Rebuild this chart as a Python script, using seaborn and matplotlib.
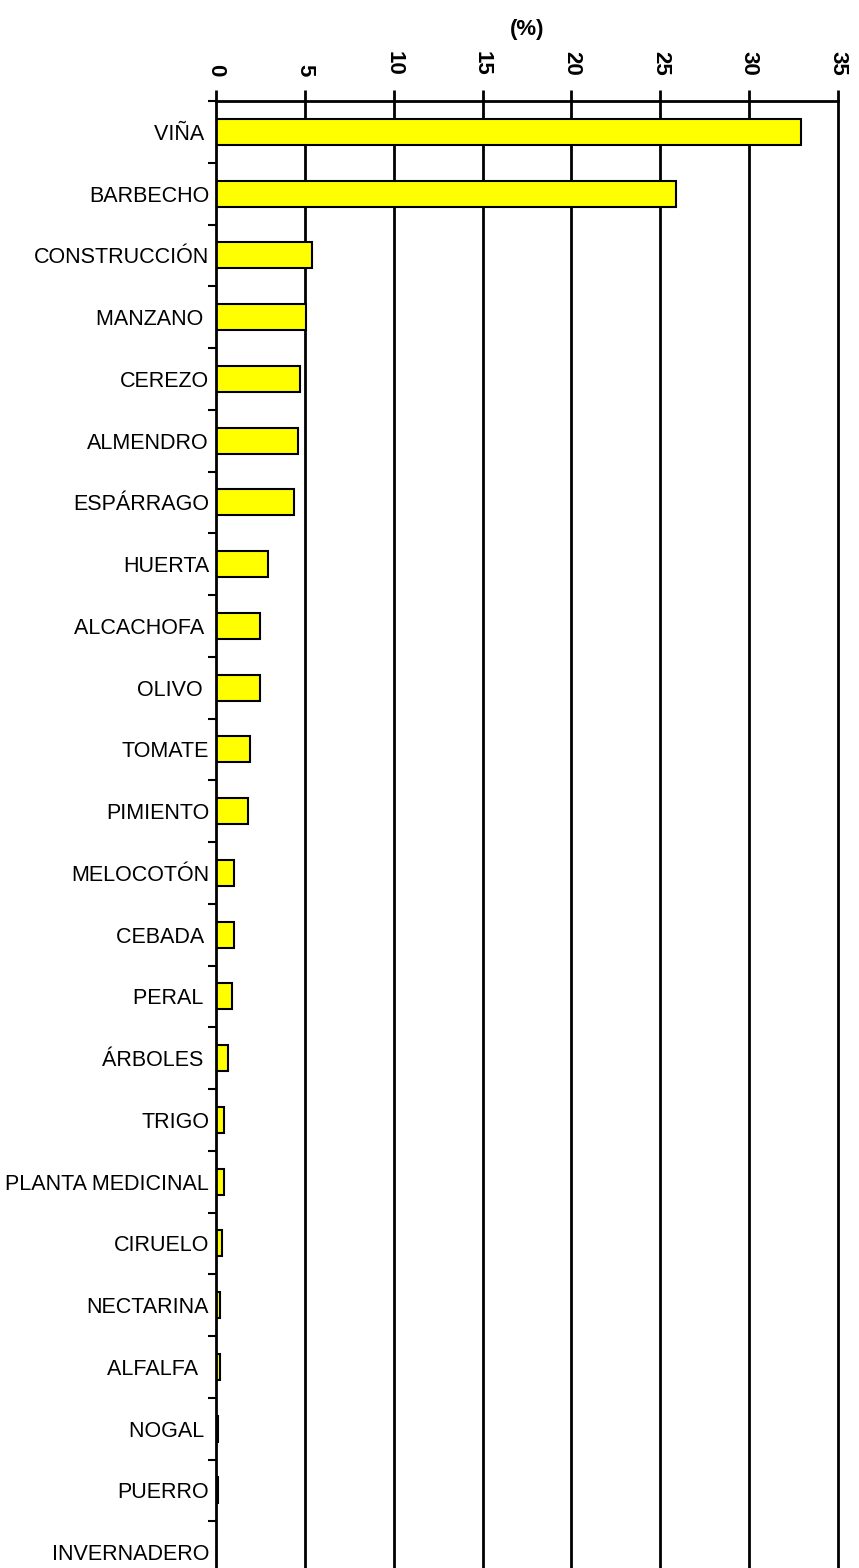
import numpy as np
import pandas as pd
import seaborn as sns
import matplotlib.pyplot as plt
from matplotlib.ticker import FixedLocator

# cultivos y porcentaje de superficie
cultivos = ["VIÑA ", "BARBECHO", "CONSTRUCCIÓN", "MANZANO ", "CEREZO", "ALMENDRO",
            "ESPÁRRAGO", "HUERTA", "ALCACHOFA ", "OLIVO ", "TOMATE", "PIMIENTO",
            "MELOCOTÓN", "CEBADA ", "PERAL ", "ÁRBOLES ", "TRIGO", "PLANTA MEDICINAL",
            "CIRUELO", "NECTARINA", "ALFALFA  ", "NOGAL ", "PUERRO", "INVERNADERO"]
porcentaje = [32.9, 25.9, 5.4, 5.05, 4.72, 4.6,
              4.4, 2.93, 2.48, 2.48, 1.91, 1.82,
              1.01, 1.01, 0.92, 0.66, 0.45, 0.45,
              0.36, 0.24, 0.24, 0.1, 0.1, 0.0]
x_ticks = [0, 5, 10, 15, 20, 25, 30, 35]

df = pd.DataFrame({"cultivo": cultivos, "pct": porcentaje})

sns.set_style("white")
plt.rcParams['font.family'] = ['Liberation Sans', 'DejaVu Sans']
plt.rcParams['text.color'] = 'black'
plt.rcParams['xtick.color'] = 'black'
plt.rcParams['ytick.color'] = 'black'
plt.rcParams['axes.labelcolor'] = 'black'

fig = plt.figure(figsize=(8.59, 15.68), dpi=100)
ax = fig.add_axes([216/859, 1 - 1583/1568, 622/859, 1482/1568])

sns.barplot(data=df, x="pct", y="cultivo", orient="h", color="#FFFF00",
            saturation=1, edgecolor="black", linewidth=1.5, width=0.42, ax=ax)

ax.set_xlim(0, 35)
ax.set_ylim(len(cultivos) - 0.5, -0.5)

# eje x arriba
ax.xaxis.tick_top()
ax.xaxis.set_label_position("top")
ax.set_xticks(x_ticks)
ax.set_xticklabels([str(t) for t in x_ticks], rotation=-90, fontsize=16,
                   fontweight="bold", va="bottom", ha="center")
ax.tick_params(axis="x", direction="out", length=8, width=2, pad=10, top=True, bottom=False)
ax.set_xlabel("(%)", fontsize=16, fontweight="bold", labelpad=12)

# rejilla vertical
for t in x_ticks[1:]:
    ax.axvline(t, color="black", lw=2, zorder=0, clip_on=False)

# eje y
ax.set_ylabel("")
ax.tick_params(axis="y", which="major", length=0, pad=5, labelsize=15.5)
ax.yaxis.set_minor_locator(FixedLocator(np.arange(-0.5, len(cultivos), 1)))
ax.tick_params(axis="y", which="minor", direction="out", length=6, width=1.5, left=True)

for s in ["top", "left"]:
    ax.spines[s].set_color("black")
    ax.spines[s].set_linewidth(2)
ax.spines["right"].set_visible(False)
ax.spines["bottom"].set_visible(False)

fig.savefig("out.png", dpi=100)
